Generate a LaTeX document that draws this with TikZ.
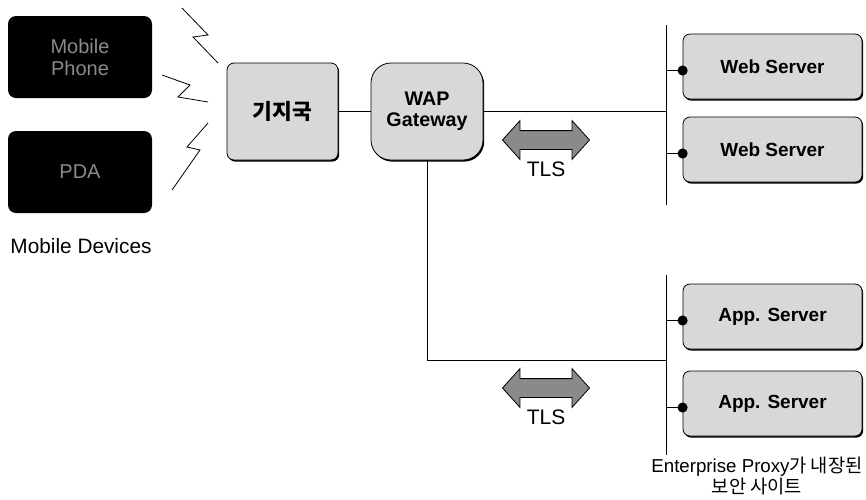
\documentclass[tikz,border=0pt]{standalone}
\usepackage{fontspec}
\setmainfont{Liberation Sans}
\newfontfamily\krfont{Noto Sans CJK KR}
\usetikzlibrary{arrows.meta, positioning, shapes.arrows, shadows}
\definecolor{BoxGray}{HTML}{D8D8D8}
\definecolor{ArrowGray}{HTML}{8A8A8A}
\definecolor{DimText}{HTML}{8A8A8A}
\tikzset{
  devicebox/.style={fill=black, rounded corners=8pt, minimum width=144pt, minimum height=82pt, inner sep=0pt, align=center, text=DimText, font=\fontsize{20}{22}\selectfont},
  graybox/.style={draw=black, line width=0.8pt, fill=BoxGray, rounded corners=7pt, inner sep=0pt, align=center, drop shadow={shadow xshift=1.2pt, shadow yshift=-1.6pt, fill=black, opacity=1}, font=\fontsize{19}{20}\selectfont\bfseries},
  serverbox/.style={graybox, minimum width=179pt, minimum height=65pt},
  plainlabel/.style={inner sep=1pt, align=center, font=\fontsize{21}{23}\selectfont},
  tlsarrow/.style={double arrow, draw=black, line width=0.8pt, fill=ArrowGray, inner xsep=0pt, inner ysep=9pt, minimum width=0pt, minimum height=87pt, double arrow head extend=10pt, double arrow tip angle=96},
  link/.style={line width=0.9pt},
  bus/.style={line width=0.7pt},
  tap/.style={line width=1.8pt, -{Circle[length=10pt]}, shorten >=-5pt},
  bolt/.style={line width=0.8pt, line join=miter}
}

\begin{document}
\begin{tikzpicture}[x=1pt, y=-1pt]
\useasboundingbox (0,0) rectangle (866,499);
% mobile devices
\node[devicebox] (phone) at (80,57) {Mobile\\Phone};
\node[devicebox] (pda) at (80,172) {PDA};
\node[plainlabel, font=\fontsize{20.8}{22}\selectfont] (devlabel) at (81,246) {Mobile Devices};
% radio links
\draw[bolt] (182,8) -- (208,35) -- (193,37) -- (218,63);
\draw[bolt] (162,75) -- (190,85) -- (178,97) -- (208,102);
\draw[bolt] (208,123) -- (187,147) -- (200,150) -- (172,190);
% base station and gateway
\node[graybox, minimum width=111pt, minimum height=97pt, font=\fontsize{21.5}{23}\selectfont\krfont\bfseries] (bs) at (282.5,111.5) {기지국};
\node[graybox, rounded corners=20pt, minimum width=112pt, minimum height=97pt, font=\fontsize{19.7}{21}\selectfont\bfseries] (wap) at (427,111.5) {WAP\\Gateway};
% servers
\node[serverbox] (ws1) at (772.5,66.5) {Web Server};
\node[serverbox] (ws2) at (772.5,149.5) {Web Server};
\node[serverbox] (app1) at (772.5,316.5) {App. Server};
\node[serverbox] (app2) at (772.5,403.5) {App. Server};
% buses
\coordinate (upbustop) at (666,25);
\coordinate (upbusbot) at (666,205);
\coordinate (lowbustop) at (666,275);
\coordinate (lowbusbot) at (666,455);
\coordinate (lowjoin) at (666,360);
\draw[bus] (upbustop) -- (upbusbot);
\draw[bus] (lowbustop) -- (lowbusbot);
\draw[link] (bs) -- (wap);
\draw[link] (wap.east) -- (wap.east -| upbustop);
\draw[link] (wap.south) |- (lowjoin);
\foreach \srv/\busref in {ws1/upbustop, ws2/upbustop, app1/lowbustop, app2/lowbustop} {
  \coordinate (\srv tap) at ([yshift=-4pt]\srv.west);
  \draw[tap] (\srv tap -| \busref) -- (\srv tap);
}
% TLS
\node[tlsarrow] (tls1) at (546,140) {};
\node[plainlabel, below=11pt of tls1] (tls1label) {TLS};
\node[tlsarrow] (tls2) at (546,388) {};
\node[plainlabel, below=11pt of tls2] (tls2label) {TLS};
% caption
\node[plainlabel, font=\fontsize{18.7}{20.5}\selectfont] (sitelabel) at (757,476) {Enterprise Proxy{\krfont 가 내장된}\\{\krfont 보안 사이트}};
\end{tikzpicture}
\end{document}
